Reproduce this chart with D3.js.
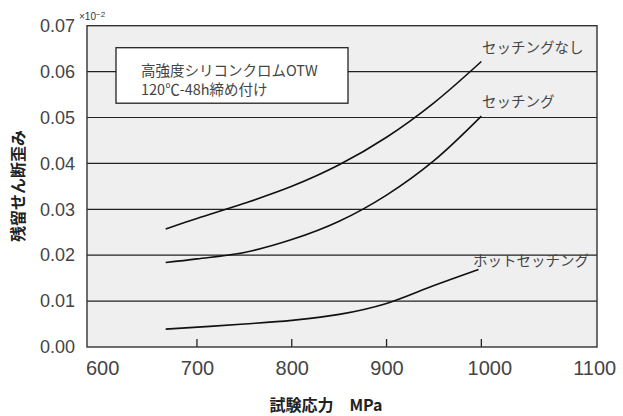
<!DOCTYPE html>
<html lang="ja">
<head>
<meta charset="UTF-8">
<title>残留せん断歪み</title>
<script src="https://d3js.org/d3.v7.min.js"></script>
<style>
  body { margin: 0; background: #fff; }
  text { font-family: "Liberation Sans", Arial, sans-serif; }
  .jp { font-family: "Noto Sans CJK JP", sans-serif; }
</style>
</head>
<body>
<script>
    // stress (MPa) and residual shear strain
    var stressNone = [667, 700, 750, 800, 850, 900, 950, 1000];
    var strainNone = [0.0257, 0.0280, 0.0313, 0.0350, 0.0397, 0.0457, 0.0532, 0.0622];

    var stressSet = [667, 700, 750, 800, 850, 900, 950, 1000];
    var strainSet = [0.0184, 0.0192, 0.0206, 0.0234, 0.0274, 0.0331, 0.0406, 0.0503];

    var stressHot = [667, 750, 800, 850, 900, 950, 997];
    var strainHot = [0.0039, 0.0050, 0.0058, 0.0071, 0.0095, 0.0134, 0.0169];

    var xTickLabels = [600, 700, 800, 900, 1000, 1100];
    var xInnerTicks = [700, 800, 900, 1000];
    var yTicks = [0, 0.01, 0.02, 0.03, 0.04, 0.05, 0.06, 0.07];

    var width = 623, height = 416;
    var plotLeft = 87, plotRight = 597, plotTop = 25.7, plotBottom = 347;

    var svg = d3.select("body").append("svg")
        .attr("width", width)
        .attr("height", height);

    var x = d3.scaleLinear().domain([584, 1122]).range([plotLeft, plotRight]);
    var y = d3.scaleLinear().domain([0, 0.07]).range([plotBottom, plotTop]);

    // plot background
    svg.append("rect")
        .attr("x", plotLeft).attr("y", plotTop)
        .attr("width", plotRight - plotLeft).attr("height", plotBottom - plotTop)
        .attr("fill", "#efefef");

    // gridlines
    svg.append("g").selectAll("line")
        .data(yTicks.slice(1, 7))
        .enter().append("line")
        .attr("x1", plotLeft).attr("x2", plotRight)
        .attr("y1", function (d) { return y(d); })
        .attr("y2", function (d) { return y(d); })
        .attr("stroke", "#222")
        .attr("stroke-width", 1.2);

    // inner ticks on the bottom
    svg.append("g").selectAll("line")
        .data(xInnerTicks)
        .enter().append("line")
        .attr("x1", function (d) { return x(d); })
        .attr("x2", function (d) { return x(d); })
        .attr("y1", plotBottom).attr("y2", plotBottom - 8)
        .attr("stroke", "#222")
        .attr("stroke-width", 1.3);

    // frame
    svg.append("rect")
        .attr("x", plotLeft).attr("y", plotTop)
        .attr("width", plotRight - plotLeft).attr("height", plotBottom - plotTop)
        .attr("fill", "none")
        .attr("stroke", "#333")
        .attr("stroke-width", 1.4);

    // y axis labels
    var yAxis = svg.append("g")
        .attr("transform", "translate(" + plotLeft + ",0)")
        .call(d3.axisLeft(y).tickValues(yTicks).tickSize(0).tickPadding(12).tickFormat(d3.format(".2f")));
    yAxis.select(".domain").remove();
    yAxis.selectAll("text")
        .attr("font-size", "18px")
        .attr("font-family", "Liberation Sans, Arial, sans-serif")
        .attr("fill", "#444");

    svg.append("text")
        .attr("x", 79).attr("y", 20)
        .attr("font-size", "10px")
        .attr("fill", "#333")
        .text("×10")
        .append("tspan")
        .attr("dy", "-3")
        .attr("font-size", "8px")
        .text("−2");

    // x axis labels
    var xAxis = svg.append("g")
        .attr("transform", "translate(0," + plotBottom + ")")
        .call(d3.axisBottom(x).tickValues(xTickLabels).tickSize(0).tickPadding(14).tickFormat(d3.format("d")));
    xAxis.select(".domain").remove();
    xAxis.selectAll("text")
        .attr("font-size", "20px")
        .attr("font-family", "Liberation Sans, Arial, sans-serif")
        .attr("fill", "#444")
        .attr("dx", function (d) { return d === 1100 ? 18 : (d === 1000 ? 8 : 0); });

    // axis titles
    svg.append("text")
        .attr("class", "jp")
        .attr("transform", "translate(24,186) rotate(-90)")
        .attr("text-anchor", "middle")
        .attr("font-size", "16px")
        .attr("font-weight", "bold")
        .attr("fill", "#222")
        .text("残留せん断歪み");

    svg.append("text")
        .attr("class", "jp")
        .attr("x", 326).attr("y", 411)
        .attr("text-anchor", "middle")
        .attr("font-size", "16px")
        .attr("font-weight", "bold")
        .attr("fill", "#222")
        .text("試験応力　MPa");

    // curves
    var line = d3.line()
        .x(function (d) { return x(d[0]); })
        .y(function (d) { return y(d[1]); })
        .curve(d3.curveCatmullRom.alpha(0.5));

    var series = [
        d3.zip(stressNone, strainNone),
        d3.zip(stressSet, strainSet),
        d3.zip(stressHot, strainHot)
    ];

    svg.append("g").selectAll("path")
        .data(series)
        .enter().append("path")
        .attr("d", line)
        .attr("fill", "none")
        .attr("stroke", "#111")
        .attr("stroke-width", 1.6);

    // curve labels
    var labels = [
        {text: "セッチングなし", x: 482, y: 53},
        {text: "セッチング", x: 482, y: 107},
        {text: "ホットセッチング", x: 473, y: 266}
    ];
    svg.append("g").selectAll("text")
        .data(labels)
        .enter().append("text")
        .attr("class", "jp")
        .attr("x", function (d) { return d.x; })
        .attr("y", function (d) { return d.y; })
        .attr("font-size", "14.5px")
        .attr("fill", "#444")
        .text(function (d) { return d.text; });

    // note box
    svg.append("rect")
        .attr("x", 116).attr("y", 47.7)
        .attr("width", 232).attr("height", 55.5)
        .attr("fill", "#fff")
        .attr("stroke", "#222")
        .attr("stroke-width", 1.3);

    var note = svg.append("g")
        .attr("class", "jp")
        .attr("font-size", "14.5px")
        .attr("fill", "#444");
    note.append("text").attr("class", "jp").attr("x", 141).attr("y", 76).text("高強度シリコンクロムOTW");
    note.append("text").attr("class", "jp").attr("x", 141).attr("y", 95).text("120℃-48h締め付け");
</script>
</body>
</html>
